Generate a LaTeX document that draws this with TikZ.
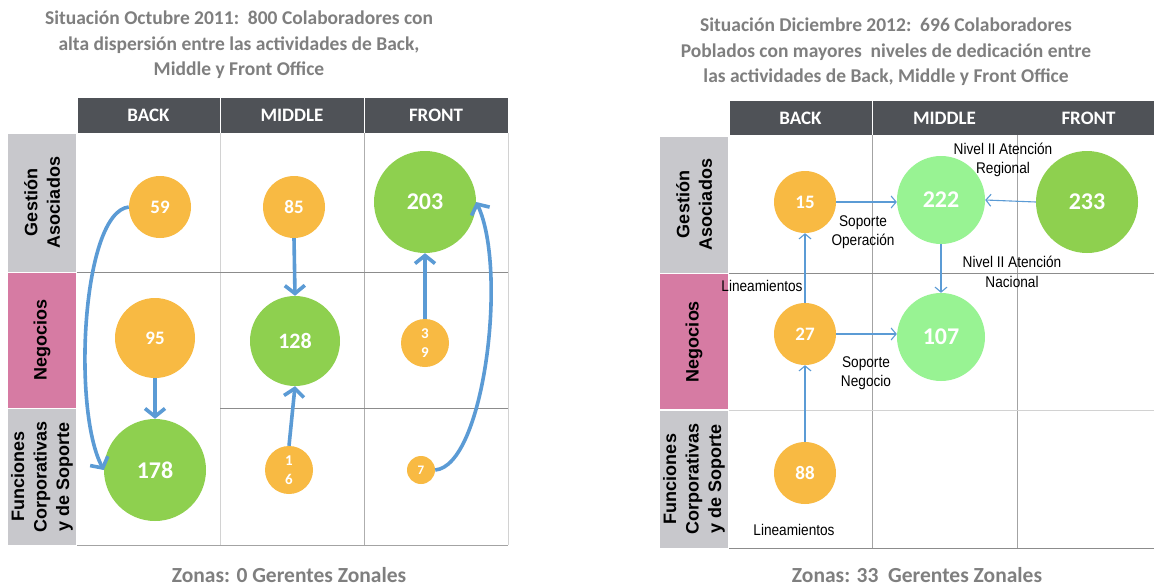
\documentclass[tikz,border=0pt]{standalone}
\usepackage{fontspec}
\setmainfont{Carlito}
\newfontfamily\arialf{Liberation Sans}
\newfontfamily\narrowf[FakeStretch=0.88]{Liberation Sans}
\usetikzlibrary{arrows.meta}
\definecolor{hdrgray}{HTML}{4F5257}
\definecolor{rowgray}{HTML}{C8C8CC}
\definecolor{rowpink}{HTML}{D67BA3}
\definecolor{orangec}{HTML}{F8BA43}
\definecolor{greenc}{HTML}{8ED04F}
\definecolor{lgreenc}{HTML}{98F393}
\definecolor{arrowblue}{HTML}{5B9BD5}
\definecolor{titlegray}{HTML}{7F7F7F}
\definecolor{gridd}{HTML}{8C8C8C}
\definecolor{gridl}{HTML}{D2D2D2}
\tikzset{
  hdrcell/.style={fill=hdrgray, text=white, inner sep=0pt, font=\bfseries\fontsize{19}{20}\selectfont},
  rowcell/.style={rotate=90, inner sep=0pt, align=center, font=\arialf\bfseries\fontsize{18}{22.5}\selectfont},
  bubble/.style={circle, inner sep=0pt, text=white, align=center},
  thickarrow/.style={draw=arrowblue, line width=3.6pt, -{Straight Barb[length=8pt,width=20pt]}},
  thinarrow/.style={draw=arrowblue, line width=1.1pt, -{Straight Barb[length=5pt,width=12pt]}},
  lbl/.style={align=center, inner sep=0pt, font=\narrowf\fontsize{15.5}{19.5}\selectfont},
  titletxt/.style={align=center, text=titlegray, inner sep=0pt, font=\bfseries\fontsize{19.5}{25.5}\selectfont},
  zonetxt/.style={text=titlegray, inner sep=0pt, font=\bfseries\fontsize{21.5}{22}\selectfont},
  midnum/.style={font=\bfseries\fontsize{19}{19}\selectfont},
  bignum/.style={font=\bfseries\fontsize{24}{24}\selectfont},
  stacknum/.style={font=\bfseries\fontsize{15}{19}\selectfont},
}
\begin{document}
\begin{tikzpicture}[x=1pt,y=-1pt]
\useasboundingbox (0,0) rectangle (1154,586);
\fill[white] (0,0) rectangle (1154,586);

% ---------------- LEFT PANEL ----------------
\node[titletxt] (tl) at (239,45) {Situación Octubre 2011:\ \ 800 Colaboradores con\\alta dispersión entre las actividades de Back,\\Middle y Front Office};

\node[hdrcell, minimum width=142pt, minimum height=35pt] (lh1) at (148.5,115.5) {BACK};
\node[hdrcell, minimum width=143pt, minimum height=35pt] (lh2) at (292,115.5) {MIDDLE};
\node[hdrcell, minimum width=143pt, minimum height=35pt] (lh3) at (436,115.5) {FRONT};

\node[rowcell, fill=rowgray, minimum width=138pt, minimum height=68pt] (lr1) at (42,202.5) {Gestión\\Asociados};
\node[rowcell, fill=rowpink, minimum width=135pt, minimum height=68pt] (lr2) at (42,340) {Negocios};
\node[rowcell, fill=rowgray, minimum width=136pt, minimum height=68pt] (lr3) at (42,476.5) {Funciones\\Corporativas\\y de Soporte};

\draw[gridl, line width=0.8pt] (220,133) -- (220,545);
\draw[gridl, line width=0.8pt] (508,133) -- (508,545);
\draw[gridd!70, line width=0.8pt] (364,133) -- (364,545);
\draw[gridd, line width=0.9pt] (77,272) -- (508,272);
\draw[gridd, line width=0.9pt] (220,408) -- (508,408);
\draw[gridd!80, line width=0.9pt] (77,545) -- (508,545);

\node[bubble, fill=orangec, minimum size=62pt, midnum] (l59) at (160,207) {59};
\node[bubble, fill=orangec, minimum size=62pt, midnum] (l85) at (294,207) {85};
\node[bubble, fill=greenc, minimum size=102pt, bignum] (l203) at (425,202) {203};
\node[bubble, fill=orangec, minimum size=80pt, midnum] (l95) at (155,338) {95};
\node[bubble, fill=greenc, minimum size=90pt, font=\bfseries\fontsize{22}{22}\selectfont] (l128) at (295,341) {128};
\node[bubble, fill=orangec, minimum size=48pt, stacknum] (l39) at (425,343) {3\\9};
\node[bubble, fill=greenc, minimum size=102pt, bignum] (l178) at (155,470) {178};
\node[bubble, fill=orangec, minimum size=48pt, stacknum] (l16) at (289,470) {1\\6};
\node[bubble, fill=orangec, minimum size=28pt, font=\bfseries\fontsize{13}{13}\selectfont] (l7) at (421,470) {7};

\draw[thickarrow] (l85.south) -- (l128.north);
\draw[thickarrow] (l95.south) -- (l178.north);
\draw[thickarrow] (l16.north) -- (l128.south);
\draw[thickarrow] (l39.north) -- (l203.south);
\draw[thickarrow] (l59.west) .. controls (82,212) and (72,410) .. (l178.west);
\draw[thickarrow] (l7.east) .. controls (484,466) and (508,270) .. (l203.east);

\node[zonetxt] (zl) at (289,575) {Zonas: 0 Gerentes Zonales};

% ---------------- RIGHT PANEL ----------------
\node[titletxt] (tr) at (886,52) {Situación Diciembre 2012:\ \ 696 Colaboradores\\Poblados con mayores\ \ niveles de dedicación entre\\las actividades de Back, Middle y Front Office};

\node[hdrcell, minimum width=142pt, minimum height=34pt] (rh1) at (800.5,118) {BACK};
\node[hdrcell, minimum width=144pt, minimum height=34pt] (rh2) at (944.5,118) {MIDDLE};
\node[hdrcell, minimum width=143pt, minimum height=34pt] (rh3) at (1088.5,118) {FRONT};

\node[rowcell, fill=rowgray, minimum width=136pt, minimum height=68pt] (rr1) at (694,204.5) {Gestión\\Asociados};
\node[rowcell, fill=rowpink, minimum width=135pt, minimum height=68pt] (rr2) at (694,341.5) {Negocios};
\node[rowcell, fill=rowgray, minimum width=137pt, minimum height=68pt] (rr3) at (694,479) {Funciones\\Corporativas\\y de Soporte};

\draw[gridd!80, line width=0.8pt] (872,135) -- (872,548);
\draw[gridd!80, line width=0.8pt] (1017,135) -- (1017,548);
\draw[gridd, line width=0.9pt] (729,273) -- (1154,273);
\draw[gridl, line width=0.9pt] (729,410) -- (1154,410);
\draw[gridd, line width=0.9pt] (729,548) -- (1154,548);

\node[bubble, fill=orangec, minimum size=62pt, midnum] (r15) at (805,202) {15};
\node[bubble, fill=lgreenc, minimum size=88pt, bignum] (r222) at (941,200) {222};
\node[bubble, fill=greenc, minimum size=102pt, bignum] (r233) at (1087,202) {233};
\node[bubble, fill=orangec, minimum size=62pt, midnum] (r27) at (805,334) {27};
\node[bubble, fill=lgreenc, minimum size=88pt, bignum] (r107) at (941,337) {107};
\node[bubble, fill=orangec, minimum size=62pt, midnum] (r88) at (805,473) {88};

\draw[thinarrow] (r15.east) -- (r15.east -| r222.west);
\draw[thinarrow] (r233.west) -- (r222.east);
\draw[thinarrow] (r222.south) -- (r107.north);
\draw[thinarrow] (r27.east) -- (r27.east -| r107.west);
\draw[thinarrow] (r27.north) -- (r15.south);
\draw[thinarrow] (r88.north) -- (r27.south);

\node[lbl] (tReg) at (1003,160) {Nivel II Atención\\Regional};
\node[lbl] (tOp) at (863,232) {Soporte\\Operación};
\node[lbl] (tNac) at (1012,272) {Nivel II Atención\\Nacional};
\node[lbl] (tLin1) at (762,286) {Lineamientos};
\node[lbl] (tNeg) at (866,373) {Soporte\\Negocio};
\node[lbl] (tLin2) at (794,530) {Lineamientos};

\node[zonetxt] (zr) at (917,575) {Zonas: 33\ \ Gerentes Zonales};
\end{tikzpicture}
\end{document}
